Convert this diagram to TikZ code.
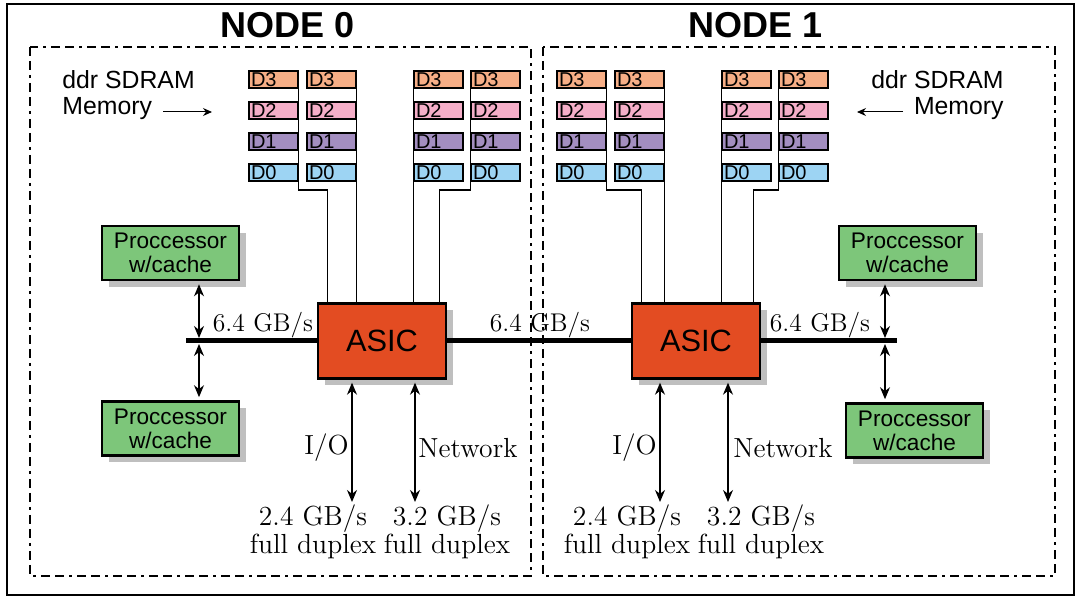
\documentclass[tikz,border=0pt]{standalone}
\usepackage{fontspec}
\setsansfont{Liberation Sans}
\usetikzlibrary{arrows.meta,calc,shadows}

\definecolor{dthree}{HTML}{F6AE86}
\definecolor{dtwo}{HTML}{F5AEC8}
\definecolor{done}{HTML}{A38EC0}
\definecolor{dzero}{HTML}{9DD4F3}
\definecolor{procgreen}{HTML}{7DC67A}
\definecolor{asicred}{HTML}{E34C22}

\tikzset{
  shadowed/.style={drop shadow={shadow xshift=3.5pt, shadow yshift=-3.5pt, fill=black!25, opacity=1}},
  mem/.style={draw, line width=0.8pt, minimum height=8.5pt, text width=22.5pt, inner xsep=1pt, inner ysep=0pt, align=left, font=\sffamily\fontsize{10}{10}\selectfont},
  proc/.style={draw, line width=1.3pt, fill=procgreen, shadowed, minimum width=68.5pt, minimum height=27pt, inner sep=0pt, align=center, font=\sffamily\fontsize{11.3}{12}\selectfont},
  asicbox/.style={draw, line width=1.2pt, fill=asicred, shadowed, minimum width=64pt, minimum height=37.5pt, inner sep=0pt, font=\sffamily\fontsize{15.4}{16}\selectfont},
  bus/.style={line width=2.5pt},
  wire/.style={line width=0.6pt},
  link/.style={line width=0.6pt, {Stealth[length=6pt,width=5pt]}-{Stealth[length=6pt,width=5pt]}},
  memlink/.style={line width=0.5pt, -{Stealth[length=4.5pt,width=4pt]}},
  lbl/.style={inner sep=0pt, font=\fontsize{13.8}{10.5}\selectfont},
  rate/.style={inner sep=0pt, font=\fontsize{12.8}{13}\selectfont},
  ddr/.style={inner sep=0pt, font=\sffamily\fontsize{12.4}{13}\selectfont},
  title/.style={font=\sffamily\bfseries\fontsize{18}{18}\selectfont},
  nodebox/.style={line width=0.6pt, dash pattern=on 4.5pt off 2.5pt on 4.5pt off 2.5pt on 1.5pt off 2.5pt},
}

\begin{document}
\begin{tikzpicture}[x=0.5pt,y=-0.5pt]
    \useasboundingbox (0,0) rectangle (1078,598);

    %frames
    \draw[line width=1pt] (7,4) rectangle (1074,595);
    \draw[nodebox] (30,47) rectangle (531,576);
    \draw[nodebox] (543,47) rectangle (1055,576);
    \node[title] (t0) at (288,25) {NODE 0};
    \node[title] (t1) at (756,25) {NODE 1};

    %memory
    \foreach \n/\dx in {0/0,1/308}{
      \foreach \c/\cx in {1/273.5,2/331.5,3/438.5,4/495.5}{
        \foreach \r/\ry/\col in {3/79.5/dthree,2/110.5/dtwo,1/141.5/done,0/172.5/dzero}
          \node[mem, fill=\col] (m\n-\c-\r) at (\cx+\dx,\ry) {D\r};
      }
    }

    %asic
    \node[asicbox] (asic0) at (382,341) {ASIC};
    \node[asicbox] (asic1) at (696,341) {ASIC};

    %memory wires
    \foreach \n in {0,1}{
      \draw[wire] (m\n-1-3.north east) -- (m\n-1-3.north east |- 0,190) -| ($(asic\n.north west)+(11,0)$);
      \draw[wire] (m\n-2-3.north east) -- (m\n-2-3.north east |- asic\n.north);
      \draw[wire] (m\n-3-3.north west) -- (m\n-3-3.north west |- asic\n.north);
      \draw[wire] (m\n-4-3.north west) -- (m\n-4-3.north west |- 0,190) -| ($(asic\n.north east)+(-8,0)$);
    }

    %ddr labels
    \node[ddr, anchor=west, align=left] (ddr0) at (62,95) {ddr SDRAM\\Memory};
    \node[ddr, anchor=east, align=right] (ddr1) at (1004,95) {ddr SDRAM\\Memory};
    \coordinate (ma0) at (163,112);
    \coordinate (mb0) at (212,112);
    \coordinate (ma1) at (903,112);
    \coordinate (mb1) at (857,112);
    \draw[memlink] (ma0) -- (mb0);
    \draw[memlink] (ma1) -- (mb1);

    %buses
    \coordinate (bend0) at (186,341);
    \coordinate (j0) at (199,341);
    \coordinate (bend1) at (897,341);
    \coordinate (j1) at (885,341);
    \draw[bus] (bend0) -- (asic0.west);
    \draw[bus] (asic0.east) -- (asic1.west);
    \draw[bus] (asic1.east) -- (bend1);
    \node[rate] (bw0) at (263,325) {6.4 GB/s};
    \node[rate] (bw01) at (540,325) {6.4 GB/s};
    \node[rate] (bw1) at (820,325) {6.4 GB/s};

    %processors
    \node[proc] (p0a) at (170.5,253) {Proccessor\\w/cache};
    \node[proc] (p0b) at (170.5,428.5) {Proccessor\\w/cache};
    \node[proc] (p1a) at (907.5,253) {Proccessor\\w/cache};
    \node[proc] (p1b) at (914.5,430.5) {Proccessor\\w/cache};
    \draw[link] ($(p0a.south -| j0)+(0,3)$) -- ($(j0)+(0,-3)$);
    \draw[link] ($(j0)+(0,3)$) -- ($(p0b.north -| j0)+(0,-3)$);
    \draw[link] ($(p1a.south -| j1)+(0,3)$) -- ($(j1)+(0,-3)$);
    \draw[link] ($(j1)+(0,3)$) -- ($(p1b.north -| j1)+(0,-3)$);

    %io and network
    \coordinate (io0) at (352,502);
    \coordinate (net0) at (415,502);
    \coordinate (io1) at (660,502);
    \coordinate (net1) at (728,502);
    \foreach \e in {io0,net0}
      \draw[link] ($(asic0.south -| \e)+(0,3)$) -- (\e);
    \foreach \e in {io1,net1}
      \draw[link] ($(asic1.south -| \e)+(0,3)$) -- (\e);
    \node[lbl, anchor=east] (iol0) at (349,448) {I/O};
    \node[lbl, anchor=west] (netl0) at (418,448) {Network};
    \node[lbl, anchor=east] (iol1) at (657,448) {I/O};
    \node[lbl, anchor=west] (netl1) at (733,448) {Network};
    \node[lbl, align=center] (ios0) at (313,532) {2.4 GB/s\\full duplex};
    \node[lbl, align=center] (nets0) at (447,532) {3.2 GB/s\\full duplex};
    \node[lbl, align=center] (ios1) at (627,532) {2.4 GB/s\\full duplex};
    \node[lbl, align=center] (nets1) at (761,532) {3.2 GB/s\\full duplex};

\end{tikzpicture}
\end{document}
